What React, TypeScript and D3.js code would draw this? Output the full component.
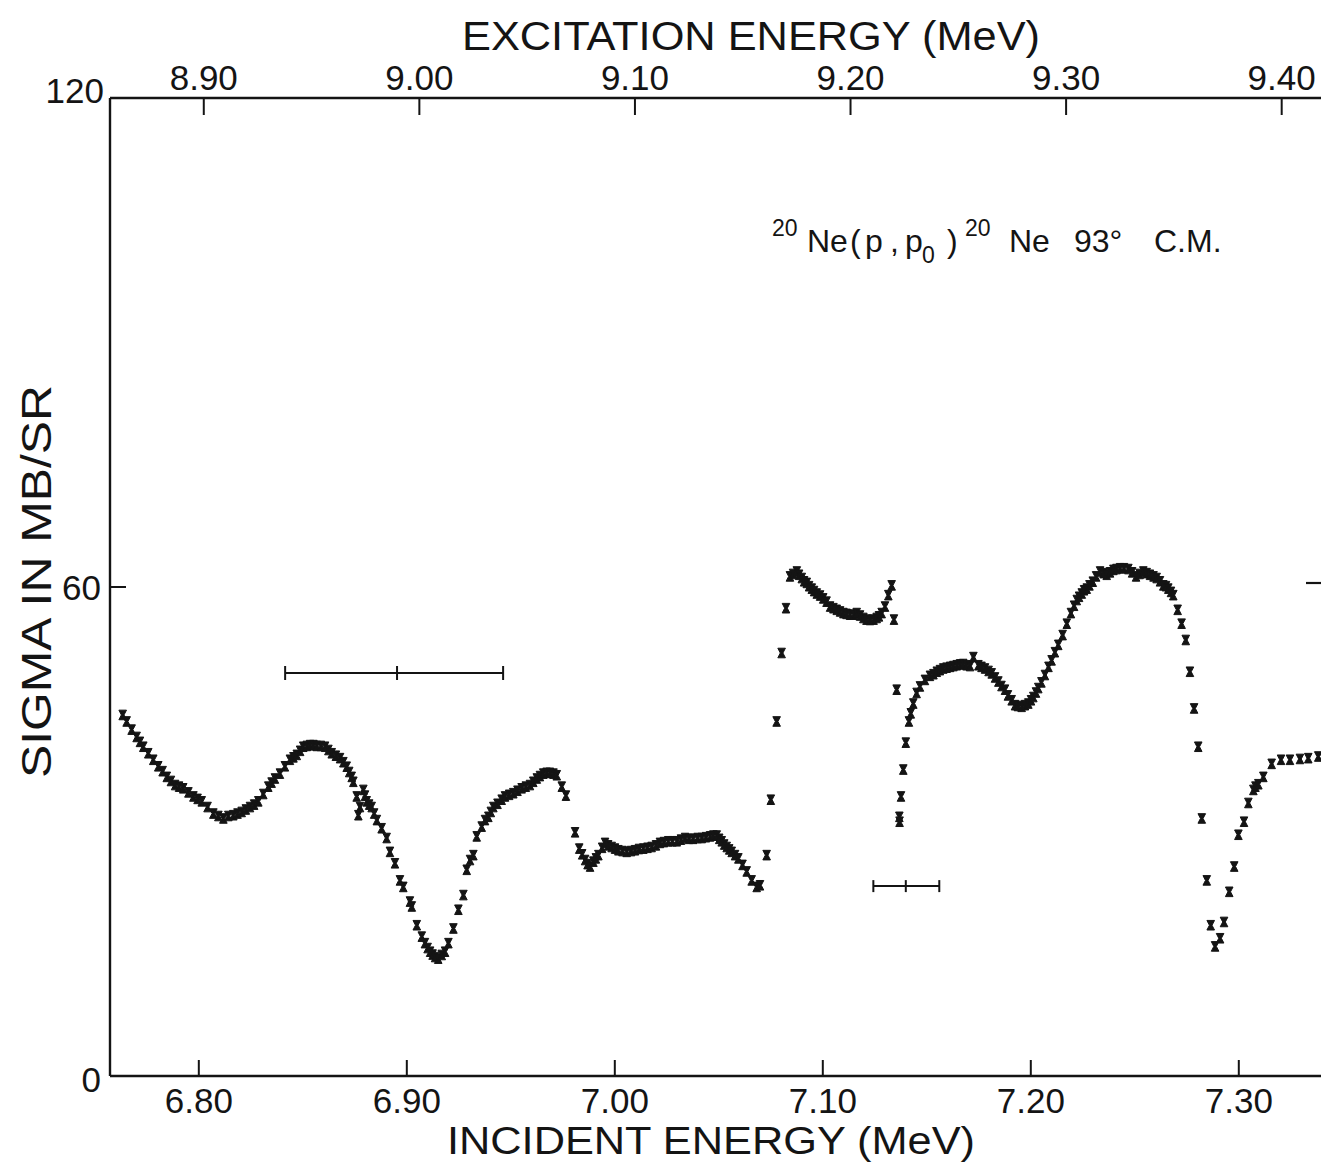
import React from "react";
import * as d3 from "d3";

// ---- axis definitions ----
const incidentTicks = [6.8, 6.9, 7.0, 7.1, 7.2, 7.3];
const excitationTicks = [8.9, 9.0, 9.1, 9.2, 9.3, 9.4];
const sigmaLabels = [0, 60, 120];
const sigmaInnerTicks = [60];

const incidentDomain = [6.7573, 7.34];
const excitationDomain = [8.8565, 9.4187];
const sigmaDomain = [0, 120];

// ---- data: [incident energy (MeV), sigma (mb/sr)] ----
const segA: [number, number][] = [
  [6.7634, 44.3], [6.7653, 43.5], [6.7677, 42.5], [6.7701, 41.6], [6.7717, 41.0], [6.7733, 40.4],
  [6.7757, 39.6], [6.7781, 38.8], [6.7805, 38.0], [6.7826, 37.4], [6.7846, 36.7], [6.7866, 36.2],
  [6.7886, 35.7], [6.7905, 35.5], [6.7925, 35.3], [6.795, 34.8], [6.7974, 34.3], [6.7994, 34.0],
  [6.8014, 33.7], [6.8042, 33.0], [6.807, 32.2], [6.8094, 31.9], [6.8118, 31.6], [6.8142, 31.9],
  [6.8166, 32.0], [6.8186, 32.2], [6.8206, 32.4], [6.8226, 32.7], [6.8246, 33.0], [6.8266, 33.3],
  [6.8286, 33.7], [6.831, 34.6], [6.8334, 35.5], [6.835, 36.0], [6.8366, 36.5], [6.839, 37.1],
  [6.8414, 38.0], [6.8438, 38.8], [6.8455, 39.1], [6.8471, 39.4], [6.8487, 39.9], [6.8502, 40.4],
  [6.8519, 40.5], [6.8535, 40.6], [6.8551, 40.6], [6.8567, 40.5], [6.8587, 40.5], [6.8607, 40.4],
  [6.8623, 40.0], [6.8639, 39.6], [6.8659, 39.3], [6.8679, 39.0], [6.8695, 38.5], [6.8711, 37.95],
  [6.8723, 37.3], [6.8735, 36.7], [6.8743, 36.1], [6.8759, 34.3], [6.8767, 32.0], [6.8775, 33.0],
  [6.8791, 35.1], [6.8799, 34.4], [6.8807, 33.7], [6.8819, 33.3], [6.8831, 33.0], [6.8843, 32.2],
  [6.8856, 31.4], [6.8879, 30.4], [6.8903, 29.2], [6.8919, 27.5], [6.8943, 26.1], [6.8967, 24.0],
  [6.8983, 23.2], [6.9015, 21.4], [6.9024, 20.8], [6.9048, 18.5], [6.9072, 17.1], [6.9087, 16.3],
  [6.91, 15.7], [6.9112, 15.25], [6.9124, 14.9], [6.9136, 14.6], [6.9151, 14.4], [6.9168, 14.85],
  [6.9184, 15.25], [6.92, 16.3], [6.9224, 18.1], [6.9248, 20.4], [6.9272, 22.2], [6.9288, 25.3],
  [6.9304, 26.5], [6.932, 27.1], [6.9336, 29.4], [6.936, 30.6], [6.9376, 31.4], [6.9392, 31.8],
  [6.9404, 32.4], [6.9416, 33.0], [6.9436, 33.4], [6.9456, 33.9], [6.9472, 34.3], [6.9492, 34.5],
  [6.9512, 34.7], [6.9532, 35.0], [6.9552, 35.3], [6.9572, 35.5], [6.9592, 35.7], [6.9608, 36.1],
  [6.9625, 36.5], [6.964, 36.8], [6.9656, 37.1], [6.9672, 37.2], [6.9688, 37.2], [6.9705, 37.1],
  [6.9721, 36.9], [6.9745, 35.5], [6.9765, 34.4],
];

const segB: [number, number][] = [
  [6.9809, 29.9], [6.9829, 27.9], [6.9843, 27.2], [6.9857, 26.5], [6.9869, 26.0], [6.9881, 25.7],
  [6.9897, 26.3], [6.9909, 26.7], [6.9921, 27.1], [6.9939, 28.0], [6.9953, 28.6], [6.9968, 28.3],
  [6.9985, 28.1], [7.0001, 27.9], [7.0017, 27.7], [7.0037, 27.6], [7.0057, 27.5], [7.0078, 27.6],
  [7.0097, 27.7], [7.0116, 27.85], [7.0137, 27.9], [7.0157, 28.0], [7.0177, 28.1], [7.0198, 28.3],
  [7.0217, 28.6], [7.0236, 28.7], [7.0257, 28.8], [7.0277, 28.8], [7.0298, 28.8], [7.0318, 29.0],
  [7.0338, 29.2], [7.0357, 29.1], [7.0377, 29.1], [7.0398, 29.2], [7.0418, 29.2], [7.0438, 29.3],
  [7.0458, 29.4], [7.0474, 29.5], [7.049, 29.5], [7.0502, 29.1], [7.0514, 28.8], [7.0526, 28.4],
  [7.0538, 28.1], [7.055, 27.8], [7.0562, 27.5], [7.0578, 27.1], [7.0594, 26.7], [7.0614, 25.9],
  [7.0634, 25.1], [7.0658, 24.0], [7.0682, 23.2], [7.0698, 23.4],
];

const segC: [number, number][] = [
  [7.073, 27.1], [7.075, 33.9], [7.0778, 43.5], [7.0802, 51.9], [7.0823, 57.4], [7.0842, 61.3],
  [7.0857, 61.6], [7.0875, 61.9], [7.0886, 61.5], [7.0899, 61.1], [7.091, 60.7], [7.0923, 60.5],
  [7.0934, 60.1], [7.0947, 59.8], [7.0958, 59.5], [7.0971, 59.2], [7.0987, 58.95], [7.1002, 58.6],
  [7.1018, 58.2], [7.1035, 57.6], [7.1051, 57.4], [7.1067, 57.2], [7.1083, 57.0], [7.1099, 56.8],
  [7.1114, 56.7], [7.1131, 56.6], [7.1148, 56.6], [7.1163, 56.8], [7.1179, 56.5], [7.1195, 56.2],
  [7.121, 56.0], [7.1227, 55.95], [7.1244, 56.0], [7.1259, 56.2], [7.127, 56.4], [7.1283, 56.8],
  [7.1299, 57.6], [7.1315, 59.0], [7.1331, 60.2], [7.1342, 56.0],
];

const segD: [number, number][] = [
  [7.1355, 47.4], [7.1368, 31.8], [7.1369, 31.2], [7.1376, 34.3], [7.1387, 37.6], [7.1399, 40.9],
  [7.1414, 43.5], [7.1423, 44.5], [7.1435, 45.7], [7.1451, 47.0], [7.1467, 47.8], [7.1491, 48.6],
  [7.1515, 49.1], [7.1532, 49.3], [7.1548, 49.6], [7.1563, 49.8], [7.1579, 50.0], [7.1595, 50.1],
  [7.1612, 50.2], [7.1628, 50.3], [7.1644, 50.4], [7.166, 50.5], [7.1675, 50.55], [7.1691, 50.4],
  [7.1708, 50.3], [7.1724, 51.4], [7.1748, 50.4], [7.1763, 50.2], [7.178, 50.0], [7.1797, 49.7],
  [7.1812, 49.4], [7.1828, 48.9], [7.1844, 48.4], [7.1859, 47.85], [7.1876, 47.4], [7.189, 46.7],
  [7.1908, 46.1], [7.1924, 45.5], [7.1938, 45.4], [7.1956, 45.3], [7.1972, 45.5], [7.1988, 45.7],
  [7.2001, 46.1], [7.2012, 46.5], [7.2025, 47.05], [7.2036, 47.6], [7.2051, 48.3], [7.2068, 49.2],
  [7.2085, 50.2], [7.21, 51.0], [7.2116, 52.0], [7.2132, 52.9], [7.2153, 54.1], [7.2173, 55.5],
  [7.2193, 56.8], [7.2208, 57.7], [7.2221, 58.4], [7.2232, 58.8], [7.2245, 59.2], [7.2256, 59.6],
  [7.2269, 59.8], [7.2282, 60.2], [7.2298, 60.65], [7.2314, 61.3], [7.2333, 61.9], [7.235, 61.7],
  [7.2365, 61.5], [7.2381, 61.8], [7.2397, 62.1], [7.2412, 62.2], [7.2429, 62.3], [7.2448, 62.3],
  [7.2469, 62.2], [7.2487, 61.8], [7.2506, 61.3], [7.2523, 61.6], [7.2541, 61.9], [7.2557, 61.7],
  [7.2573, 61.5], [7.259, 61.3], [7.2605, 61.1], [7.2621, 60.7], [7.2637, 60.2], [7.265, 60.1],
  [7.2661, 59.8], [7.2674, 59.4], [7.2685, 59.0], [7.2706, 57.2], [7.2725, 55.5], [7.2745, 53.5],
  [7.2765, 49.6], [7.2785, 45.1], [7.2805, 40.4],
];

const segE: [number, number][] = [
  [7.2822, 31.6], [7.2846, 24.0], [7.2865, 18.5], [7.2886, 15.9], [7.291, 16.9], [7.2929, 18.9],
  [7.2954, 22.6], [7.2978, 25.7], [7.2998, 29.6], [7.3025, 31.2], [7.3046, 33.5], [7.307, 35.1],
  [7.308, 35.5], [7.3094, 35.8], [7.3118, 36.7], [7.3158, 38.3], [7.3203, 38.8], [7.3246, 38.8],
  [7.3294, 38.9], [7.3334, 39.0], [7.3382, 39.2],
];

// energy-resolution bars: [low, centre, high] incident energy, at sigma level
const resolutionLow = [6.8415, 7.1243];
const resolutionCentre = [6.8953, 7.1399];
const resolutionHigh = [6.9463, 7.156];
const resolutionSigma = [49.45, 23.3];

const INK = "#141414";
const FONT = "'Liberation Sans', Arial, Helvetica, sans-serif";
const hourglass = "M-3.8,-4.8H3.8L1.3,0L3.8,4.8H-3.8L-1.3,0Z";

export default function App() {
  const x = d3.scaleLinear().domain(incidentDomain).range([110, 1322]);
  const xTop = d3.scaleLinear().domain(excitationDomain).range([110, 1322]);
  const y = d3.scaleLinear().domain(sigmaDomain).range([1076, 98]);
  const [xl, xr] = x.range();
  const [yb, yt] = y.range();
  const fmt = d3.format(".2f");
  const points = [...segA, ...segB, ...segC, ...segD, ...segE];

  return (
    <svg
      width={1321}
      height={1165}
      style={{ position: "absolute", left: 0, top: 0, background: "#fff" }}
      fontFamily={FONT}
    >
      <rect width={1321} height={1165} fill="#fff" />

      {/* frame */}
      <line x1={xl} x2={xr} y1={yt} y2={yt} stroke={INK} strokeWidth={2.6} />
      <line x1={xl} x2={xr} y1={yb} y2={yb} stroke={INK} strokeWidth={2.6} />
      <line x1={xl} x2={xl} y1={yt} y2={yb} stroke={INK} strokeWidth={2.4} />

      {/* bottom axis ticks */}
      {incidentTicks.map((t) => (
        <g key={"b" + t}>
          <line x1={x(t)} x2={x(t)} y1={yb} y2={yb - 16} stroke={INK} strokeWidth={2} />
          <text x={x(t)} y={yb + 37} textAnchor="middle" fontSize={35} fill={INK}>
            {fmt(t)}
          </text>
        </g>
      ))}

      {/* top axis ticks */}
      {excitationTicks.map((t) => (
        <g key={"t" + t}>
          <line x1={xTop(t)} x2={xTop(t)} y1={yt} y2={yt + 17} stroke={INK} strokeWidth={2} />
          <text x={xTop(t)} y={yt - 8} textAnchor="middle" fontSize={35} fill={INK}>
            {fmt(t)}
          </text>
        </g>
      ))}

      {/* y ticks and labels */}
      {sigmaInnerTicks.map((v) => (
        <g key={"yt" + v}>
          <line x1={xl} x2={xl + 16} y1={y(v)} y2={y(v)} stroke={INK} strokeWidth={2} />
          <line x1={xr - 16} x2={xr} y1={y(v) - 4} y2={y(v) - 4} stroke={INK} strokeWidth={2.2} />
        </g>
      ))}
      {sigmaLabels.map((v) => (
        <text
          key={"yl" + v}
          x={xl - (v === 120 ? 6 : 9)}
          y={y(v) + (v === 120 ? 5 : v === 60 ? 13 : 16)}
          textAnchor="end"
          fontSize={35}
          fill={INK}
        >
          {v}
        </text>
      ))}

      {/* axis titles */}
      <text x={462} y={50} fontSize={40} textLength={578} lengthAdjust="spacingAndGlyphs" fill={INK}>
        EXCITATION ENERGY (MeV)
      </text>
      <text x={447} y={1154} fontSize={39} textLength={528} lengthAdjust="spacingAndGlyphs" fill={INK}>
        INCIDENT ENERGY (MeV)
      </text>
      <text
        transform="translate(51,778) rotate(-90)"
        fontSize={43}
        textLength={393}
        lengthAdjust="spacingAndGlyphs"
        fill={INK}
      >
        SIGMA IN MB/SR
      </text>

      {/* reaction annotation */}
      <text fontSize={32} fill={INK} y={252}>
        <tspan x={772} y={236} fontSize={23}>20</tspan>
        <tspan x={807} y={252}>Ne</tspan>
        <tspan x={850} y={252}>(</tspan>
        <tspan x={865} y={252}>p</tspan>
        <tspan x={890} y={252}>,</tspan>
        <tspan x={905} y={252}>p</tspan>
        <tspan x={922} y={263} fontSize={23}>0</tspan>
        <tspan x={947} y={252}>)</tspan>
        <tspan x={965} y={236} fontSize={23}>20</tspan>
        <tspan x={1009} y={252}>Ne</tspan>
        <tspan x={1074} y={252}>93°</tspan>
        <tspan x={1154} y={252}>C.M.</tspan>
      </text>

      {/* resolution bars */}
      {resolutionCentre.map((c, i) => {
        const yy = y(resolutionSigma[i]);
        const h = i === 0 ? 7 : 6;
        return (
          <g key={"res" + i} stroke={INK} strokeWidth={2}>
            <line x1={x(resolutionLow[i])} x2={x(resolutionHigh[i])} y1={yy} y2={yy} />
            <line x1={x(resolutionLow[i])} x2={x(resolutionLow[i])} y1={yy - h} y2={yy + h} />
            <line x1={x(c)} x2={x(c)} y1={yy - h} y2={yy + h} />
            <line x1={x(resolutionHigh[i])} x2={x(resolutionHigh[i])} y1={yy - h} y2={yy + h} />
          </g>
        );
      })}

      {/* data points */}
      <g fill={INK} stroke={INK} strokeWidth={1}>
        {points.map(([e, s], i) => (
          <path key={i} d={hourglass} transform={`translate(${x(e).toFixed(2)},${y(s).toFixed(2)})`} />
        ))}
      </g>
    </svg>
  );
}
